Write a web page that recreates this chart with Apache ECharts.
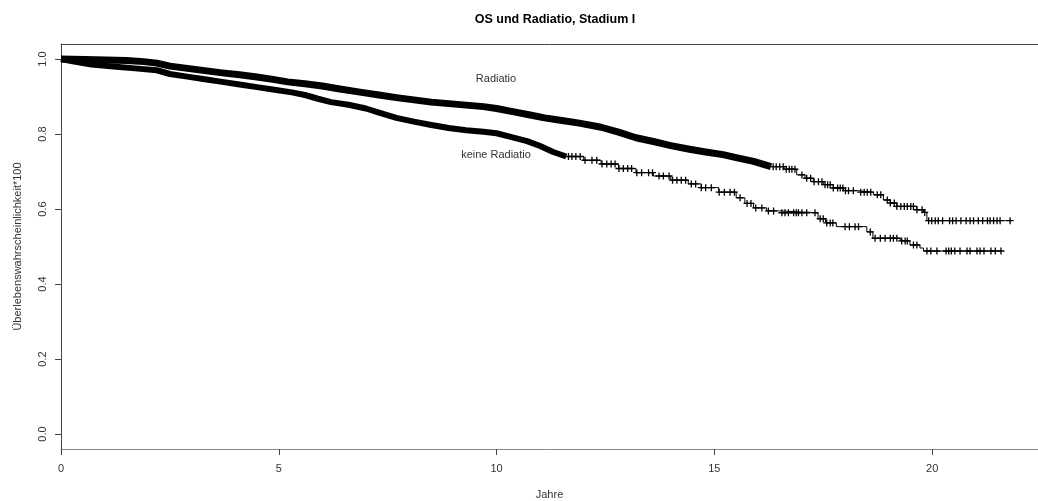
<!DOCTYPE html>
<html><head><meta charset="utf-8">
<script src="https://cdn.jsdelivr.net/npm/echarts@6/dist/echarts.min.js"></script>
<style>html,body{margin:0;padding:0;background:#fff}#c{width:1038px;height:501px}</style>
</head><body><div id="c"></div>
<script>
const titleText = 'OS und Radiatio, Stadium I';
const xName = 'Jahre';
const yName = 'Überlebenswahrscheinlichkeit*100';
const xTicks = [0, 5, 10, 15, 20];
const yTicks = [0, 0.2, 0.4, 0.6, 0.8, 1.0];
const groupNames = ['Radiatio', 'keine Radiatio'];

// Kaplan-Meier steps [Jahre, Überleben]
const radiatioSteps = [[0,1.0],[0.8,0.998],[1.5,0.996],[1.9,0.993],[2.2,0.989],[2.5,0.981],[2.9,0.975],[3.3,0.969],[3.7,0.963],[4.1,0.958],[4.5,0.952],[4.9,0.945],[5.2,0.939],[5.6,0.934],[6.0,0.928],[6.4,0.920],[6.9,0.911],[7.3,0.904],[7.7,0.897],[8.1,0.891],[8.5,0.885],[8.9,0.881],[9.3,0.877],[9.7,0.873],[10.0,0.868],[10.4,0.859],[10.8,0.850],[11.1,0.843],[11.5,0.836],[11.9,0.829],[12.4,0.818],[12.8,0.805],[13.2,0.790],[13.6,0.780],[14.0,0.769],[14.4,0.760],[14.8,0.752],[15.2,0.745],[15.5,0.737],[15.9,0.727],[16.3,0.713],[16.6,0.706],[16.89,0.691],[17.08,0.682],[17.27,0.673],[17.5,0.665],[17.73,0.656],[17.96,0.649],[18.27,0.645],[18.65,0.638],[18.88,0.624],[19.04,0.616],[19.19,0.607],[19.65,0.598],[19.8,0.591],[19.88,0.569],[21.8,0.569]];
// censoring times in the sparse part (dense part is drawn as a band)
const radiatioCensor = [16.35,16.42,16.5,16.58,16.65,16.72,16.78,16.85,17.01,17.12,17.21,17.29,17.39,17.47,17.54,17.6,17.66,17.73,17.83,17.89,17.95,18.01,18.08,18.19,18.36,18.44,18.51,18.59,18.74,18.82,18.97,19.04,19.13,19.19,19.28,19.36,19.43,19.51,19.57,19.65,19.77,19.83,19.92,19.99,20.07,20.14,20.24,20.40,20.47,20.55,20.66,20.78,20.87,20.95,21.06,21.16,21.27,21.33,21.41,21.49,21.56,21.79];
const radiatioDenseUntil = 16.3;

const keineSteps = [[0,1.0],[0.3,0.993],[0.7,0.985],[1.2,0.980],[1.7,0.975],[2.2,0.970],[2.5,0.960],[2.9,0.953],[3.3,0.946],[3.7,0.939],[4.1,0.932],[4.5,0.925],[4.9,0.918],[5.3,0.911],[5.6,0.904],[5.9,0.894],[6.2,0.885],[6.6,0.878],[7.0,0.868],[7.3,0.857],[7.7,0.843],[8.1,0.833],[8.5,0.824],[8.9,0.816],[9.3,0.810],[9.7,0.806],[10.0,0.802],[10.3,0.793],[10.7,0.781],[11.0,0.768],[11.3,0.752],[11.6,0.740],[12.0,0.730],[12.4,0.720],[12.8,0.708],[13.2,0.697],[13.6,0.688],[14.0,0.677],[14.4,0.667],[14.7,0.657],[15.1,0.645],[15.5,0.630],[15.7,0.615],[15.9,0.603],[16.2,0.595],[16.5,0.590],[17.38,0.574],[17.55,0.563],[17.8,0.553],[18.5,0.539],[18.64,0.522],[19.27,0.515],[19.49,0.504],[19.72,0.496],[19.8,0.488],[21.58,0.488]];
const keineCensor = [11.65,11.73,11.82,11.92,12.03,12.19,12.3,12.42,12.53,12.63,12.72,12.81,12.91,13.01,13.1,13.22,13.33,13.49,13.58,13.73,13.83,13.96,14.04,14.14,14.24,14.34,14.47,14.57,14.7,14.8,14.93,15.11,15.23,15.36,15.46,15.59,15.75,15.84,15.95,16.09,16.24,16.36,16.55,16.62,16.7,16.82,16.88,16.93,17.01,17.12,17.31,17.43,17.5,17.58,17.66,17.72,18.0,18.1,18.23,18.31,18.58,18.69,18.81,18.92,19.04,19.11,19.19,19.3,19.38,19.43,19.57,19.65,19.88,19.97,20.11,20.32,20.38,20.44,20.52,20.64,20.80,20.87,21.03,21.10,21.19,21.35,21.45,21.58];
const keineDenseUntil = 11.6;

const FONT = '"Liberation Sans", Arial, sans-serif';
const TXT = '#333';

function survAt(steps, t) {
  let s = steps[0][1];
  for (const p of steps) { if (p[0] <= t) s = p[1]; }
  return s;
}
function bandData(steps, until) {
  const d = steps.filter(p => p[0] < until);
  d.push([until, survAt(steps, until)]);
  return d;
}
function tailData(steps, until) {
  return [[until, survAt(steps, until)]].concat(steps.filter(p => p[0] > until));
}
const plusSymbol = 'path://M0,5L10,5M5,0L5,10';

function groupSeries(name, steps, censor, until, bandWidth) {
  return [
    { name: name, type: 'line', step: 'end', data: tailData(steps, until), showSymbol: false, silent: true,
      lineStyle: { color: '#000', width: 1 }, z: 2 },
    { name: name + ' dicht', type: 'line', data: bandData(steps, until), showSymbol: false, silent: true,
      lineStyle: { color: '#000', width: bandWidth, cap: 'butt', join: 'round' }, z: 2 },
    { name: name + ' zensiert', type: 'scatter', data: censor.map(t => [t, survAt(steps, t)]),
      symbol: plusSymbol, symbolSize: 7, silent: true,
      itemStyle: { color: 'none', borderColor: '#000', borderWidth: 1.3, opacity: 1 }, z: 3 }
  ];
}

const chart = echarts.init(document.getElementById('c'), null, { renderer: 'canvas' });
chart.setOption({
  backgroundColor: '#fff',
  animation: false,
  title: { text: titleText, left: 550, top: 8, textAlign: 'center',
    textStyle: { fontSize: 12.5, fontWeight: 'bold', color: '#000', fontFamily: FONT } },
  grid: { left: 61, top: 44, right: 0, height: 405, containLabel: false, outerBoundsMode: 'none' },
  xAxis: [
    { type: 'value', min: 0, max: 22.43, position: 'bottom',
      axisLine: { show: true, onZero: false, lineStyle: { color: '#888', width: 1 } },
      axisTick: { show: true, length: 6, customValues: xTicks, lineStyle: { color: '#444' } },
      axisLabel: { customValues: xTicks, margin: 14, fontSize: 11, color: TXT, fontFamily: FONT },
      splitLine: { show: false },
      name: xName, nameLocation: 'middle', nameGap: 40,
      nameTextStyle: { fontSize: 11, color: TXT, fontFamily: FONT } },
    { type: 'value', min: 0, max: 22.43, position: 'top',
      axisLine: { show: true, onZero: false, lineStyle: { color: '#444', width: 1 } },
      axisTick: { show: false }, axisLabel: { show: false }, splitLine: { show: false } }
  ],
  yAxis: {
    type: 'value', min: -0.04, max: 1.04,
    axisLine: { show: true, onZero: false, lineStyle: { color: '#444', width: 1 } },
    axisTick: { show: true, length: 6, customValues: yTicks, lineStyle: { color: '#444' } },
    axisLabel: { customValues: yTicks, rotate: 90, margin: 13, fontSize: 11, color: TXT, fontFamily: FONT,
      formatter: v => Number(v).toFixed(1) },
    splitLine: { show: false },
    name: yName, nameLocation: 'middle', nameGap: 38, nameRotate: 90,
    nameTextStyle: { fontSize: 11, color: TXT, fontFamily: FONT }
  },
  graphic: [
    { type: 'text', x: 496, y: 79, style: { text: groupNames[0], align: 'center', verticalAlign: 'middle',
      textAlign: 'center', textVerticalAlign: 'middle', fontSize: 11, fontFamily: FONT, fill: TXT } },
    { type: 'text', x: 496, y: 155, style: { text: groupNames[1], align: 'center', verticalAlign: 'middle',
      textAlign: 'center', textVerticalAlign: 'middle', fontSize: 11, fontFamily: FONT, fill: TXT } }
  ],
  series: [].concat(
    groupSeries(groupNames[0], radiatioSteps, radiatioCensor, radiatioDenseUntil, 7),
    groupSeries(groupNames[1], keineSteps, keineCensor, keineDenseUntil, 6)
  )
});
</script></body></html>
